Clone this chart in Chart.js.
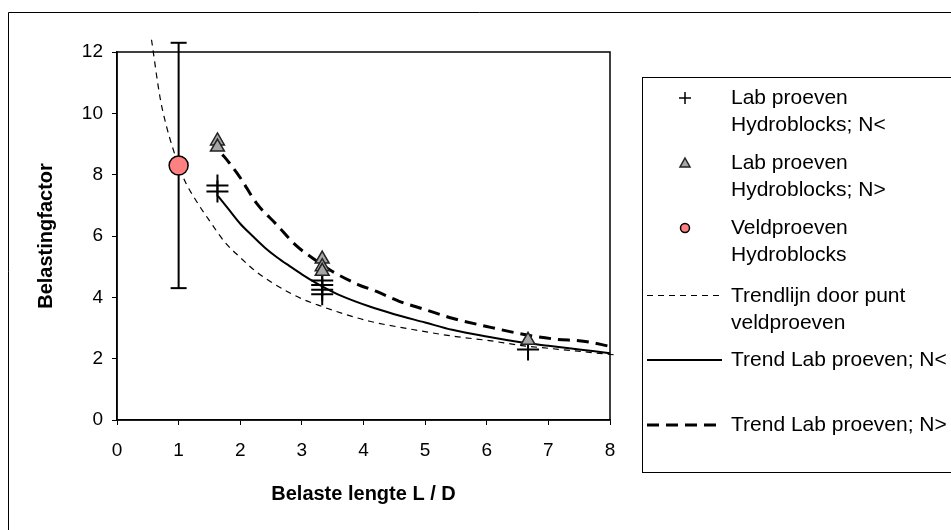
<!DOCTYPE html>
<html>
<head>
<meta charset="utf-8">
<script src="https://cdn.jsdelivr.net/npm/chart.js@4.4.0/dist/chart.umd.min.js"></script>
<style>
  body { margin: 0; background: #fff; }
  canvas { display: block; }
</style>
</head>
<body>
<canvas id="chart" width="951" height="530"></canvas>
<script>
// veldproeven (one point with error bar)
var veldX = [1];
var veldY = [8.3];
var veldLow = [4.3];
var veldHigh = [12.3];

// lab proeven N< (plus markers)
var labLtX = [1.63, 1.63, 3.33, 3.33, 3.33, 3.33, 6.67];
var labLtY = [7.65, 7.45, 4.55, 4.4, 4.25, 4.1, 2.3];

// lab proeven N> (triangles)
var labGtX = [1.63, 1.63, 3.33, 3.33, 3.33, 6.67];
var labGtY = [9.1, 8.9, 5.25, 5.0, 4.85, 2.6];

// trendlijn door punt veldproeven
var trendVeldX = [0.56, 0.7, 0.8, 0.9, 1.0, 1.1, 1.3, 1.5, 1.75, 2.0, 2.25, 2.5, 2.8, 3.0, 3.3, 3.7, 4.1, 4.8, 5.5, 6.0, 6.6, 7.2, 8.1];
var trendVeldY = [12.4, 10.5, 9.6, 8.9, 8.3, 7.8, 7.1, 6.5, 5.8, 5.3, 4.85, 4.5, 4.15, 3.95, 3.72, 3.45, 3.22, 2.95, 2.72, 2.6, 2.42, 2.3, 2.12];

// trend lab proeven N<
var trendLtX = [1.64, 1.8, 2.0, 2.2, 2.4, 2.6, 2.8, 3.0, 3.22, 3.45, 3.65, 4.1, 4.5, 5.0, 5.44, 6.0, 6.63, 7.0, 7.5, 8.0];
var trendLtY = [7.3, 6.9, 6.4, 6.0, 5.62, 5.3, 5.02, 4.75, 4.48, 4.23, 4.04, 3.7, 3.45, 3.18, 2.94, 2.72, 2.51, 2.42, 2.3, 2.18];

// trend lab proeven N>
var trendGtX = [1.71, 1.82, 2.0, 2.26, 2.6, 2.9, 3.2, 3.49, 3.92, 4.2, 4.58, 5.0, 5.44, 6.0, 6.63, 7.1, 7.6, 8.0];
var trendGtY = [8.66, 8.39, 7.9, 7.08, 6.35, 5.7, 5.24, 4.85, 4.41, 4.2, 3.87, 3.6, 3.32, 3.05, 2.78, 2.64, 2.56, 2.4];

var xTicks = [0, 1, 2, 3, 4, 5, 6, 7, 8];
var yTicks = [0, 2, 4, 6, 8, 10, 12];

var FONT = "'Liberation Sans', Arial, sans-serif";

function pts(xs, ys) {
  return xs.map(function (x, i) { return { x: x, y: ys[i] }; });
}

// legend entries: dataset index + text lines
var legendItems = [
  { ds: 2, lines: ['Lab proeven', 'Hydroblocks; N<'], y: 98 },
  { ds: 1, lines: ['Lab proeven', 'Hydroblocks; N>'], y: 163 },
  { ds: 0, lines: ['Veldproeven', 'Hydroblocks'], y: 228 },
  { ds: 4, lines: ['Trendlijn door punt', 'veldproeven'], y: 295.5 },
  { ds: 5, lines: ['Trend Lab proeven; N<'], y: 360 },
  { ds: 6, lines: ['Trend Lab proeven; N>'], y: 425 }
];

var framePlugin = {
  id: 'frame',
  beforeDraw: function (chart) {
    var ctx = chart.ctx;
    ctx.save();
    ctx.fillStyle = '#fff';
    ctx.fillRect(0, 0, chart.width, chart.height);
    ctx.strokeStyle = '#000';
    ctx.lineWidth = 1;
    ctx.beginPath();
    ctx.moveTo(8.5, chart.height);
    ctx.lineTo(8.5, 12.5);
    ctx.lineTo(chart.width, 12.5);
    ctx.stroke();
    ctx.restore();
  },
  beforeDatasetsDraw: function (chart) {
    var a = chart.chartArea, ctx = chart.ctx;
    ctx.save();
    ctx.strokeStyle = '#000';
    ctx.lineWidth = 1.5;
    ctx.strokeRect(a.left, a.top, a.right - a.left, a.bottom - a.top);
    ctx.restore();
  },
  afterDraw: function (chart) {
    var ctx = chart.ctx;
    ctx.save();
    ctx.strokeStyle = '#000';
    ctx.lineWidth = 1;
    ctx.strokeRect(642.5, 77.5, 400, 395);
    ctx.font = '21px ' + FONT;
    ctx.textBaseline = 'middle';
    ctx.fillStyle = '#000';
    legendItems.forEach(function (it) {
      var ds = chart.data.datasets[it.ds];
      var sx = 685, sy = it.y;
      ctx.save();
      if (ds.pointStyle === 'cross') {
        ctx.strokeStyle = ds.pointBorderColor;
        ctx.lineWidth = 1.5;
        ctx.beginPath();
        ctx.moveTo(sx - 6, sy); ctx.lineTo(sx + 6, sy);
        ctx.moveTo(sx, sy - 6); ctx.lineTo(sx, sy + 6);
        ctx.stroke();
      } else if (ds.pointStyle === 'triangle') {
        ctx.fillStyle = ds.pointBackgroundColor;
        ctx.strokeStyle = ds.pointBorderColor;
        ctx.lineWidth = 1.5;
        ctx.beginPath();
        ctx.moveTo(sx, sy - 5); ctx.lineTo(sx + 5, sy + 4); ctx.lineTo(sx - 5, sy + 4);
        ctx.closePath();
        ctx.fill(); ctx.stroke();
      } else if (ds.pointStyle === 'circle') {
        ctx.fillStyle = ds.pointBackgroundColor;
        ctx.strokeStyle = ds.pointBorderColor;
        ctx.lineWidth = 1.5;
        ctx.beginPath();
        ctx.arc(sx, sy, 4.5, 0, Math.PI * 2);
        ctx.fill(); ctx.stroke();
      } else {
        ctx.strokeStyle = ds.borderColor;
        ctx.lineWidth = ds.borderWidth;
        ctx.setLineDash(ds.borderDash || []);
        ctx.beginPath();
        ctx.moveTo(647, sy); ctx.lineTo(722, sy);
        ctx.stroke();
      }
      ctx.restore();
      it.lines.forEach(function (t, k) {
        ctx.fillText(t, 731, Math.round(sy) + k * 27);
      });
    });
    ctx.restore();
  }
};

var ctx = document.getElementById('chart').getContext('2d');
var chart = new Chart(ctx, {
  type: 'scatter',
  data: {
    datasets: [
      {
        label: 'Veldproeven Hydroblocks',
        data: pts(veldX, veldY),
        pointStyle: 'circle', pointRadius: 9.5, pointHoverRadius: 9.5,
        pointBackgroundColor: '#ff8080', pointBorderColor: '#000', pointBorderWidth: 1.5,
        clip: false
      },
      {
        label: 'Lab proeven Hydroblocks; N>',
        data: pts(labGtX, labGtY),
        pointStyle: 'triangle', pointRadius: 8, pointHoverRadius: 8,
        pointBackgroundColor: '#a6a6a6', pointBorderColor: '#222', pointBorderWidth: 1.5
      },
      {
        label: 'Lab proeven Hydroblocks; N<',
        data: pts(labLtX, labLtY),
        pointStyle: 'cross', pointRadius: 11, pointHoverRadius: 11,
        pointBackgroundColor: '#000', pointBorderColor: '#000', pointBorderWidth: 2
      },
      {
        label: 'error bar',
        data: [{ x: veldX[0], y: veldLow[0] }, { x: veldX[0], y: veldHigh[0] }],
        showLine: true, borderColor: '#000', borderWidth: 2,
        pointStyle: 'line', pointRadius: 8, pointHoverRadius: 8,
        pointBorderColor: '#000', pointBorderWidth: 2,
        clip: false
      },
      {
        label: 'Trendlijn door punt veldproeven',
        data: pts(trendVeldX, trendVeldY),
        showLine: true, pointRadius: 0, borderColor: '#000', borderWidth: 1.2,
        borderDash: [6, 5], cubicInterpolationMode: 'monotone',
        clip: false
      },
      {
        label: 'Trend Lab proeven; N<',
        data: pts(trendLtX, trendLtY),
        showLine: true, pointRadius: 0, borderColor: '#000', borderWidth: 2,
        cubicInterpolationMode: 'monotone',
        clip: false
      },
      {
        label: 'Trend Lab proeven; N>',
        data: pts(trendGtX, trendGtY),
        showLine: true, pointRadius: 0, borderColor: '#000', borderWidth: 3,
        borderDash: [12, 7], cubicInterpolationMode: 'monotone',
        clip: false
      }
    ]
  },
  options: {
    responsive: false,
    animation: false,
    devicePixelRatio: 1,
    layout: { padding: { left: 0, top: 52, right: 341, bottom: 0 } },
    plugins: { legend: { display: false }, tooltip: { enabled: false } },
    scales: {
      x: {
        type: 'linear', min: 0, max: 8,
        afterBuildTicks: function (s) { s.ticks = xTicks.map(function (v) { return { value: v }; }); },
        afterFit: function (s) { s.height = 110; },
        grid: { drawOnChartArea: false, tickLength: 5, color: '#000' },
        border: { color: '#000', width: 1.5 },
        ticks: { color: '#000', padding: 14, font: { family: FONT, size: 19 } },
        title: {
          display: true, text: 'Belaste lengte L / D', color: '#000',
          font: { family: FONT, size: 20, weight: 'bold' },
          padding: { top: 0, bottom: 24 }
        }
      },
      y: {
        type: 'linear', min: 0, max: 12,
        afterBuildTicks: function (s) { s.ticks = yTicks.map(function (v) { return { value: v }; }); },
        afterFit: function (s) { s.width = 117; },
        grid: { drawOnChartArea: false, tickLength: 5, color: '#000' },
        border: { color: '#000', width: 1.5 },
        ticks: { color: '#000', padding: 9, font: { family: FONT, size: 19 } },
        title: {
          display: true, text: 'Belastingfactor', color: '#000',
          font: { family: FONT, size: 20, weight: 'bold' },
          padding: { top: 34, bottom: 0 }
        }
      }
    }
  },
  plugins: [framePlugin]
});
</script>
</body>
</html>
